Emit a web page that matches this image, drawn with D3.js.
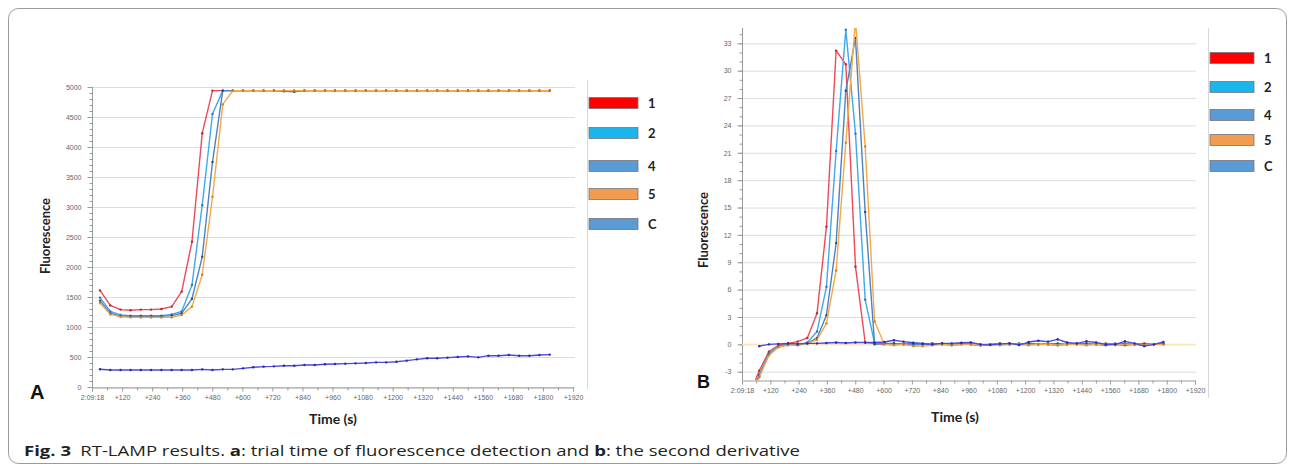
<!DOCTYPE html>
<html>
<head>
<meta charset="utf-8">
<script src="https://cdn.jsdelivr.net/npm/d3@7"></script>
<style>
  body { margin: 0; background: #fff; }
  svg { display: block; }
</style>
</head>
<body>
<svg id="fig" width="1295" height="471"></svg>
<script>
// DATA
const seriesNames = ["1", "2", "4", "5", "C"];

// sample times (s after start)
const times = [32, 73, 114, 154, 195, 236, 277, 318, 358, 399, 440, 481, 522, 562, 603,
  644, 685, 726, 766, 807, 848, 889, 930, 970, 1011, 1052, 1093, 1134, 1174, 1215,
  1256, 1297, 1338, 1378, 1419, 1460, 1501, 1542, 1582, 1623, 1664, 1705, 1746, 1786, 1827];

const xTickSecs = [0, 120, 240, 360, 480, 600, 720, 840, 960, 1080, 1200, 1320, 1440, 1560, 1680, 1800, 1920];
const xTickLabels = ["2:09:18", "+120", "+240", "+360", "+480", "+600", "+720", "+840", "+960",
  "+1080", "+1200", "+1320", "+1440", "+1560", "+1680", "+1800", "+1920"];

const yTicksA = [0, 500, 1000, 1500, 2000, 2500, 3000, 3500, 4000, 4500, 5000];
const yTicksB = [-3, 0, 3, 6, 9, 12, 15, 18, 21, 24, 27, 30, 33];

// panel A: fluorescence
const fluor1 = [1610, 1360, 1290, 1280, 1290, 1290, 1300, 1340, 1590, 2420, 4230, 4940, 4940, 4940, 4940,
  4940, 4940, 4940, 4940, 4940, 4940, 4940, 4940, 4940, 4940, 4940, 4940, 4940, 4940, 4940,
  4940, 4940, 4940, 4940, 4940, 4940, 4940, 4940, 4940, 4940, 4940, 4940, 4940, 4940, 4940];
const fluor2 = [1490, 1260, 1200, 1190, 1190, 1190, 1190, 1210, 1260, 1700, 3030, 4550, 4940, 4940, 4940,
  4940, 4940, 4940, 4940, 4940, 4940, 4940, 4940, 4940, 4940, 4940, 4940, 4940, 4940, 4940,
  4940, 4940, 4940, 4940, 4940, 4940, 4940, 4940, 4940, 4940, 4940, 4940, 4940, 4940, 4940];
const fluor4 = [1440, 1230, 1180, 1180, 1180, 1180, 1180, 1190, 1230, 1470, 2170, 3750, 4940, 4940, 4940,
  4940, 4940, 4940, 4930, 4920, 4940, 4940, 4940, 4940, 4940, 4940, 4940, 4940, 4940, 4940,
  4940, 4940, 4940, 4940, 4940, 4940, 4940, 4940, 4940, 4940, 4940, 4940, 4940, 4940, 4940];
const fluor5 = [1400, 1210, 1170, 1160, 1160, 1160, 1160, 1160, 1200, 1340, 1870, 3170, 4710, 4940, 4940,
  4940, 4940, 4940, 4940, 4940, 4940, 4940, 4940, 4940, 4940, 4940, 4940, 4940, 4940, 4940,
  4940, 4940, 4940, 4940, 4940, 4940, 4940, 4940, 4940, 4940, 4940, 4940, 4940, 4940, 4940];
const fluorC = [295, 283, 283, 283, 283, 283, 283, 283, 283, 283, 294, 283, 294, 294, 311,
  328, 339, 344, 355, 355, 367, 367, 378, 383, 389, 394, 400, 411, 411, 422,
  439, 461, 478, 478, 489, 500, 511, 494, 522, 522, 533, 522, 522, 533, 540];

// panel B: second derivative
const deriv1 = [-5.5, -2.9, -0.8, -0.1, 0.1, 0.3, 0.7, 3.4, 12.9, 32.2, 30.7, 8.5, 0.2, 0.1, 0.0,
  0.1, 0.0, -0.1, 0.0, 0.1, 0.0, 0.0, 0.1, 0.0, -0.1, 0.0, 0.1, 0.0, 0.0, 0.1,
  0.0, 0.0, -0.1, 0.0, 0.1, 0.0, 0.0, 0.1, 0.0, -0.1, 0.0, 0.1, 0.0, 0.0];
const deriv2 = [-6.0, -3.3, -1.0, -0.2, 0.0, -0.1, 0.2, 1.4, 6.3, 21.2, 34.5, 23.1, 4.9, 0.1, 0.1,
  0.0, 0.1, 0.0, 0.0, 0.1, 0.0, -0.1, 0.0, 0.1, 0.0, 0.0, 0.1, 0.0, 0.1, 0.0,
  0.0, 0.1, 0.0, 0.0, 0.1, 0.0, 0.0, 0.0, 0.1, 0.0, 0.0, -0.1, 0.0, 0.1];
const deriv4 = [-6.2, -3.5, -1.1, -0.3, 0.0, 0.0, 0.1, 0.7, 3.2, 11.1, 27.8, 33.6, 14.5, 0.0, 0.1,
  0.1, 0.0, 0.1, 0.0, 0.0, 0.1, 0.0, 0.1, 0.0, -0.1, 0.0, 0.0, 0.1, 0.0, 0.1,
  0.0, 0.0, 0.1, 0.0, 0.0, 0.1, 0.0, -0.1, 0.0, 0.1, 0.0, 0.0, 0.0, 0.1];
const deriv5 = [-6.4, -3.6, -1.2, -0.3, -0.1, 0.0, 0.1, 0.5, 2.3, 8.1, 22.1, 35.5, 21.7, 2.5, 0.0,
  -0.1, 0.0, -0.2, -0.2, -0.1, 0.0, -0.1, 0.0, 0.0, -0.1, 0.0, -0.1, 0.0, 0.0, -0.1,
  0.0, 0.0, -0.1, 0.0, 0.0, -0.1, 0.0, 0.0, -0.1, 0.0, 0.0, -0.1, 0.0, 0.0];
const derivC = [null, -0.2, 0.0, 0.05, 0.1, 0.05, 0.1, 0.1, 0.15, 0.2, 0.15, 0.2, 0.2, 0.2, 0.25,
  0.45, 0.3, 0.18, 0.1, 0.0, 0.1, 0.1, 0.18, 0.22, 0.0, -0.08, 0.05, 0.1, -0.08, 0.25,
  0.4, 0.3, 0.55, 0.2, 0.1, 0.33, 0.2, 0.0, 0.0, 0.33, 0.1, -0.2, 0.0, 0.25];

// STYLES
const lineColor = { "1": "#ef4a5a", "2": "#3ea9f0", "4": "#4c82c2", "5": "#f5a848", "C": "#4b4be4" };
const dotColor = { "1": "#b12a3c", "2": "#2a78b8", "4": "#2c4c76", "5": "#c9842f", "C": "#2b2b9c" };
const legendColor = { "1": "#ff0000", "2": "#1bb4ec", "4": "#5b9bd5", "5": "#f29c4f", "C": "#5b9bd5" };

const svg = d3.select("#fig");
svg.append("rect").attr("width", 1295).attr("height", 471).attr("fill", "#fff");

// outer figure frame
svg.append("rect")
  .attr("x", 8.5).attr("y", 8.5)
  .attr("width", 1278).attr("height", 455)
  .attr("rx", 10)
  .attr("fill", "none")
  .attr("stroke", "#9a9a9a")
  .attr("stroke-width", 1);

function drawPanel(p) {
  const x = d3.scaleLinear().domain([0, 1920]).range(p.xRange);
  const y = d3.scaleLinear().domain(p.yDomain).range(p.yRange);
  const g = svg.append("g");

  // gridlines
  g.selectAll(".grid").data(p.yTicks).enter().append("line")
    .attr("x1", p.xRange[0]).attr("x2", p.gridEnd)
    .attr("y1", d => y(d) + 0.5).attr("y2", d => y(d) + 0.5)
    .attr("stroke", "#dcdcdc").attr("stroke-width", 1);

  // y axis
  const yAxis = g.append("g")
    .attr("transform", `translate(${p.xRange[0] + 0.5},0)`)
    .call(d3.axisLeft(y).tickValues(p.yTicks).tickFormat(d => String(d)).tickSize(5).tickPadding(6));
  const yMinor = g.append("g")
    .attr("transform", `translate(${p.xRange[0] + 0.5},0)`)
    .call(d3.axisLeft(y).tickValues(p.yMinor).tickSize(3).tickFormat(""));
  yMinor.select(".domain").remove();

  // x axis
  const xAxis = g.append("g")
    .attr("transform", `translate(0,${p.yRange[0] + 0.5})`)
    .call(d3.axisBottom(x).tickValues(xTickSecs).tickFormat((d, i) => xTickLabels[i]).tickSize(4).tickPadding(4));
  const xMinor = g.append("g")
    .attr("transform", `translate(0,${p.yRange[0] + 0.5})`)
    .call(d3.axisBottom(x).tickValues(d3.range(60, 1920, 120)).tickSize(3).tickFormat(""));
  xMinor.select(".domain").remove();

  [yAxis, xAxis, yMinor, xMinor].forEach(a => {
    a.selectAll("path, line").attr("stroke", "#9a9a9a");
    a.selectAll("text").attr("fill", "#666").style("font-family", "Liberation Sans, Arial, sans-serif").style("font-size", "7px");
  });
  yAxis.select(".domain").attr("d", `M-0,${p.yRange[1]}V${p.yRange[0]}`);

  // clip
  const clipId = "clip" + p.name;
  svg.append("clipPath").attr("id", clipId).append("rect")
    .attr("x", p.xRange[0]).attr("y", p.yRange[1])
    .attr("width", p.gridEnd - p.xRange[0]).attr("height", p.yRange[0] - p.yRange[1]);

  const plot = g.append("g").attr("clip-path", `url(#${clipId})`);

  // zero threshold line (panel B)
  if (p.zeroLine) {
    plot.append("line")
      .attr("x1", p.xRange[0]).attr("x2", p.xRange[1])
      .attr("y1", y(0)).attr("y2", y(0))
      .attr("stroke", "#fbe4b4").attr("stroke-width", 1.2);
  }

  const line = d3.line()
    .defined(d => d.v !== null)
    .x(d => x(d.t)).y(d => y(d.v));

  seriesNames.forEach((name, k) => {
    const vals = p.series[k];
    const pts = vals.map((v, i) => ({ t: times[i], v: v }));
    plot.append("path")
      .datum(pts)
      .attr("d", line)
      .attr("fill", "none")
      .attr("stroke", lineColor[name])
      .attr("stroke-width", 1.4)
      .attr("stroke-linejoin", "round");
    plot.selectAll(".dot" + name).data(pts.filter(d => d.v !== null)).enter().append("circle")
      .attr("cx", d => x(d.t)).attr("cy", d => y(d.v))
      .attr("r", 1.2)
      .attr("fill", dotColor[name]);
  });

  // legend separator
  g.append("line")
    .attr("x1", p.legendX - 1.5).attr("x2", p.legendX - 1.5)
    .attr("y1", p.sepTop).attr("y2", p.sepBottom)
    .attr("stroke", "#d8d8d8");

  // legend
  const legend = g.append("g").attr("class", "legend");
  seriesNames.forEach((name, k) => {
    const row = legend.append("g").attr("transform", `translate(${p.legendX},${p.legendY[k]})`);
    row.append("rect")
      .attr("x", 0).attr("y", -5.5)
      .attr("width", p.legendW).attr("height", 11)
      .attr("fill", legendColor[name])
      .attr("stroke", "#777").attr("stroke-width", 0.8);
    row.append("text")
      .attr("x", p.legendW + 10).attr("y", 0)
      .attr("dy", "0.35em")
      .style("font-family", "Lato, 'Open Sans', sans-serif")
      .style("font-weight", "bold")
      .style("font-size", "13px")
      .attr("fill", "#222")
      .text(name);
  });

  // axis titles
  g.append("text")
    .attr("transform", `translate(${p.yTitleX},${p.yTitleY}) rotate(-90)`)
    .attr("text-anchor", "middle")
    .style("font-family", "Lato, 'Open Sans', sans-serif")
    .style("font-weight", "bold")
    .style("font-size", "13px")
    .attr("fill", "#222")
    .text("Fluorescence");
  g.append("text")
    .attr("x", p.xTitleX).attr("y", p.xTitleY)
    .attr("text-anchor", "middle")
    .style("font-family", "Lato, 'Open Sans', sans-serif")
    .style("font-weight", "bold")
    .style("font-size", "14px")
    .attr("fill", "#222")
    .text("Time (s)");
  g.append("text")
    .attr("x", p.letterX).attr("y", p.letterY)
    .style("font-family", "Liberation Sans, Arial, sans-serif")
    .style("font-weight", "bold")
    .style("font-size", p.letterSize + "px")
    .attr("fill", "#111")
    .text(p.name);
}

drawPanel({
  name: "A",
  xRange: [92, 573], gridEnd: 575,
  yDomain: [0, 5000], yRange: [387, 87],
  yTicks: yTicksA, yMinor: d3.range(0, 5001, 100),
  series: [fluor1, fluor2, fluor4, fluor5, fluorC],
  zeroLine: false,
  legendX: 589, legendW: 49, legendY: [103, 133, 166, 194, 224],
  sepTop: 80, sepBottom: 390,
  yTitleX: 50, yTitleY: 236,
  xTitleX: 333, xTitleY: 424,
  letterX: 30, letterY: 399, letterSize: 20
});

drawPanel({
  name: "B",
  xRange: [742, 1195], gridEnd: 1196,
  yDomain: [-3.91, 34.68], yRange: [380, 28],
  yTicks: yTicksB, yMinor: d3.range(-3, 35, 1),
  series: [deriv1, deriv2, deriv4, deriv5, derivC],
  zeroLine: true,
  legendX: 1210, legendW: 44, legendY: [58, 87, 115, 140, 166],
  sepTop: 28, sepBottom: 398,
  yTitleX: 708, yTitleY: 230,
  xTitleX: 955, xTitleY: 422,
  letterX: 697, letterY: 388, letterSize: 18
});

// caption
const cap = svg.append("text")
  .attr("x", 24).attr("y", 456)
  .style("font-family", "'Open Sans', 'Noto Sans', sans-serif")
  .style("font-size", "15px")
  .attr("fill", "#231f20");
cap.append("tspan").style("font-weight", "bold").text("Fig. 3");
cap.append("tspan").text("\u2002RT-LAMP results. ");
cap.append("tspan").style("font-weight", "bold").text("a");
cap.append("tspan").text(": trial time of fluorescence detection and ");
cap.append("tspan").style("font-weight", "bold").text("b");
cap.append("tspan").text(": the second derivative");
cap.attr("textLength", 776).attr("lengthAdjust", "spacingAndGlyphs");
</script>
</body>
</html>
